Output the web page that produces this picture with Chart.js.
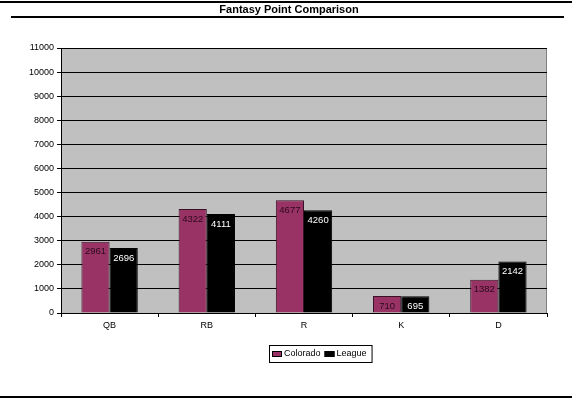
<!DOCTYPE html>
<html>
<head>
<meta charset="utf-8">
<script src="https://cdn.jsdelivr.net/npm/chart.js@4/dist/chart.umd.min.js"></script>
<style>
  html, body { margin: 0; padding: 0; background: #fff; }
  #wrap { width: 572px; height: 401px; }
</style>
</head>
<body>
<div id="wrap"><canvas id="chart" width="572" height="401"></canvas></div>
<script>
const positions = ['QB', 'RB', 'R', 'K', 'D'];
const colorado = [2961, 4322, 4677, 710, 1382];
const league = [2696, 4111, 4260, 695, 2142];
const yTicks = [0, 1000, 2000, 3000, 4000, 5000, 6000, 7000, 8000, 9000, 10000, 11000];

const FONT = '"Liberation Sans", Arial, sans-serif';

// page frame: rules, title, gray plot fill
const framePlugin = {
  id: 'frame',
  beforeDraw(chart) {
    const c = chart.ctx, a = chart.chartArea;
    c.save();
    c.fillStyle = '#c0c0c0';
    c.fillRect(a.left, a.top, a.right - a.left, a.bottom - a.top);
    c.strokeStyle = '#808080';
    c.lineWidth = 1;
    c.beginPath();
    c.moveTo(a.left, a.top + 0.5); c.lineTo(a.right - 0.5, a.top + 0.5);
    c.lineTo(a.right - 0.5, a.bottom);
    c.stroke();
    c.restore();
  },
  afterDraw(chart) {
    const c = chart.ctx;
    c.save();
    c.fillStyle = '#000';
    c.fillRect(0, 1, 572, 2);
    c.fillRect(11, 16, 553, 2);
    c.fillRect(0, 396, 572, 2);
    c.font = 'bold 11px ' + FONT;
    c.textAlign = 'center';
    c.textBaseline = 'middle';
    c.fillText('Fantasy Point Comparison', 289, 10);
    c.restore();
  }
};

// value labels at the inside end of each bar
const labelPlugin = {
  id: 'barLabels',
  afterDatasetsDraw(chart) {
    const c = chart.ctx;
    c.save();
    c.font = '9.5px ' + FONT;
    c.textAlign = 'center';
    c.textBaseline = 'middle';
    chart.data.datasets.forEach((ds, i) => {
      chart.getDatasetMeta(i).data.forEach((bar, j) => {
        c.fillStyle = i === 0 ? '#2a0a1c' : '#ffffff';
        c.fillText(String(ds.data[j]), bar.x, bar.y + 10);
      });
    });
    c.restore();
  }
};

// boxed legend like the original
const legendPlugin = {
  id: 'boxLegend',
  afterDraw(chart) {
    const c = chart.ctx;
    c.save();
    c.font = '9px ' + FONT;
    c.textBaseline = 'middle';
    const sets = chart.data.datasets;
    let w = 4;
    sets.forEach(ds => { w += 12 + c.measureText(ds.label).width + 4; });
    const h = 17, y0 = 345;
    const x0 = Math.round(320 - w / 2);
    c.fillStyle = '#fff';
    c.fillRect(x0, y0, w, h);
    c.strokeStyle = '#000';
    c.lineWidth = 1;
    c.strokeRect(x0 + 0.5, y0 + 0.5, w, h);
    let x = x0 + 3;
    const cy = y0 + h / 2 + 0.5;
    sets.forEach(ds => {
      c.fillStyle = ds.backgroundColor;
      c.fillRect(x, cy - 3, 10, 6);
      c.strokeStyle = '#000';
      c.strokeRect(x + 0.5, cy - 3 + 0.5, 9, 5);
      x += 12;
      c.fillStyle = '#000';
      c.fillText(ds.label, x, cy);
      x += c.measureText(ds.label).width + 4;
    });
    c.restore();
  }
};

new Chart(document.getElementById('chart'), {
  type: 'bar',
  data: {
    labels: positions,
    datasets: [
      { label: 'Colorado', data: colorado, backgroundColor: '#993366', borderColor: '#3a1026', borderWidth: 1 },
      { label: 'League', data: league, backgroundColor: '#000000', borderColor: '#000000', borderWidth: 1 }
    ]
  },
  options: {
    responsive: false,
    animation: false,
    layout: { padding: { top: 48, right: 25, bottom: 0, left: 0 } },
    plugins: { legend: { display: false }, tooltip: { enabled: false }, title: { display: false } },
    datasets: { bar: { categoryPercentage: 0.58, barPercentage: 1 } },
    scales: {
      x: {
        grid: { offset: true, drawOnChartArea: false, tickLength: 4, color: '#000' },
        border: { color: '#000' },
        ticks: { color: '#000', font: { family: FONT, size: 9 }, padding: 3 },
        afterFit(s) { s.height = 88; }
      },
      y: {
        min: 0, max: 11000,
        afterBuildTicks(s) { s.ticks = yTicks.map(v => ({ value: v })); },
        grid: { color: '#000', tickLength: 4 },
        border: { color: '#000' },
        ticks: { color: '#000', font: { family: FONT, size: 9 }, padding: 3, callback: v => String(v) },
        afterFit(s) { s.width = 61; }
      }
    }
  },
  plugins: [framePlugin, labelPlugin, legendPlugin]
});
</script>
</body>
</html>
